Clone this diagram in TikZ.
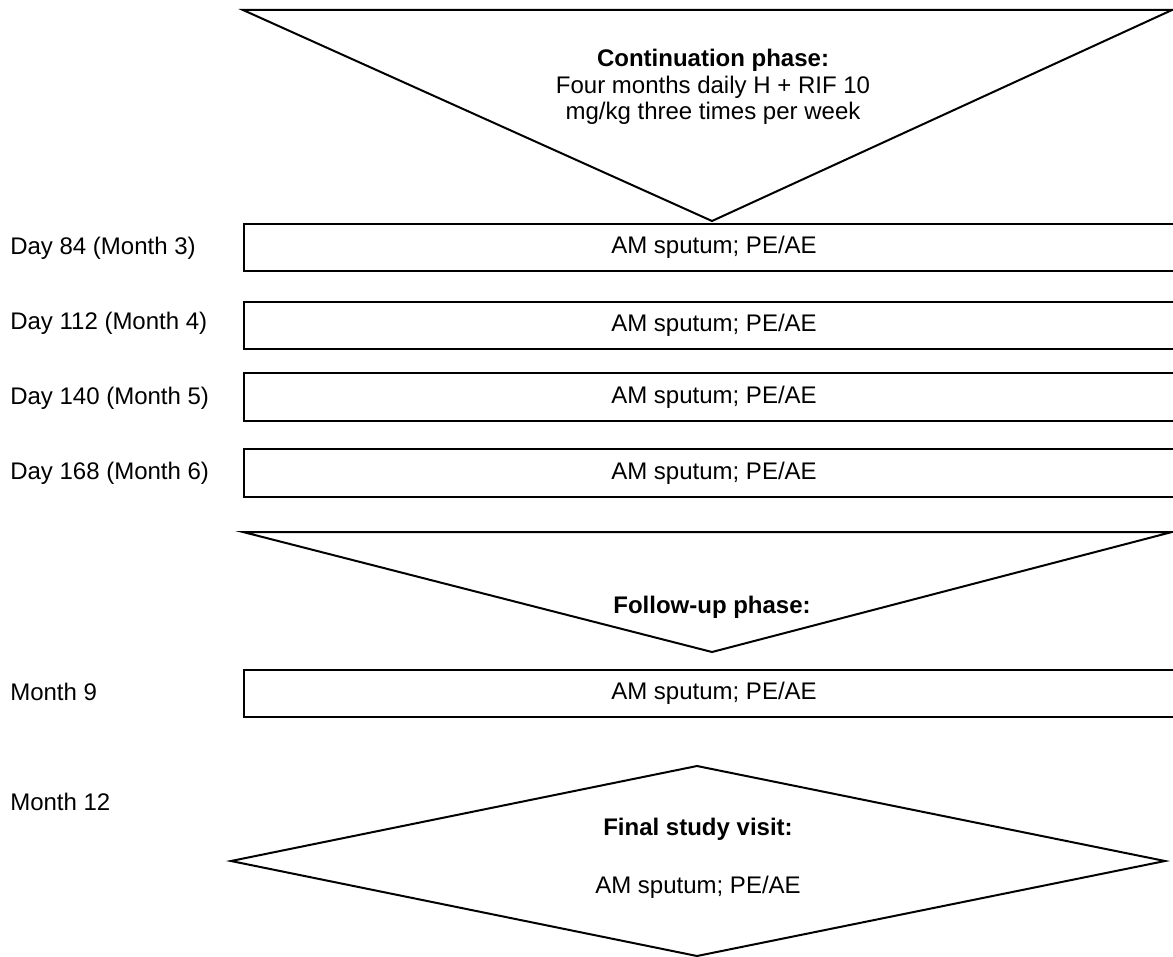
\documentclass[tikz,border=0pt]{standalone}
\usepackage{fontspec}
\setmainfont{Liberation Sans}
\usepackage{tikz}
\usetikzlibrary{positioning}

\tikzset{
    visitbox/.style={draw, line width=1.5pt, anchor=west, minimum width=705pt, minimum height=35.4pt, inner sep=0pt},
    timelabel/.style={anchor=west, inner sep=0pt},
    phaseshape/.style={draw, line width=1.5pt, line join=miter},
}

\begin{document}
\begin{tikzpicture}[x=0.75pt, y=-0.75pt, font=\fontsize{18}{20}\selectfont]
    \useasboundingbox (0,0) rectangle (1173,956);

    % continuation phase (downward triangle)
    \coordinate (CL) at (243,10);
    \coordinate (CR) at (1172,10);
    \coordinate (CA) at (712,221);
    \draw[phaseshape] (CL) -- (CR) -- (CA) -- cycle;
    \node[align=center, inner sep=0pt] (cont) at (713,87)
        {\textbf{Continuation phase:}\\Four months daily H + RIF 10\\mg/kg three times per week};

    % visits during the continuation phase
    \node[visitbox] (v3) at (243,247.5) {AM sputum; PE/AE};
    \node[visitbox] (v4) at (243,325.5) {AM sputum; PE/AE};
    \node[visitbox] (v5) at (243,397) {AM sputum; PE/AE};
    \node[visitbox] (v6) at (243,473) {AM sputum; PE/AE};

    \node[timelabel] (d84) at (10,248) {Day 84 (Month 3)};
    \node[timelabel] (d112) at (10,323) {Day 112 (Month 4)};
    \node[timelabel] (d140) at (10,398) {Day 140 (Month 5)};
    \node[timelabel] (d168) at (10,473) {Day 168 (Month 6)};

    % follow-up phase
    \coordinate (FL) at (243,532);
    \coordinate (FR) at (1172,532);
    \coordinate (FA) at (712,652);
    \draw[phaseshape] (FL) -- (FR) -- (FA) -- cycle;
    \node[font=\fontsize{18}{20}\selectfont\bfseries] (follow) at (712,607) {Follow-up phase:};

    \node[visitbox] (v9) at (243,693.5) {AM sputum; PE/AE};
    \node[timelabel] (m9) at (10,692) {Month 9};

    % final study visit (diamond)
    \coordinate (DT) at (697,766);
    \coordinate (DR) at (1165,861);
    \coordinate (DB) at (697,956);
    \coordinate (DL) at (231,861);
    \draw[phaseshape] (DT) -- (DR) -- (DB) -- (DL) -- cycle;
    \node[font=\fontsize{18}{20}\selectfont\bfseries] (final) at (698,829) {Final study visit:};
    \node (finalam) at (698,887) {AM sputum; PE/AE};
    \node[timelabel] (m12) at (10,802) {Month 12};
\end{tikzpicture}
\end{document}
